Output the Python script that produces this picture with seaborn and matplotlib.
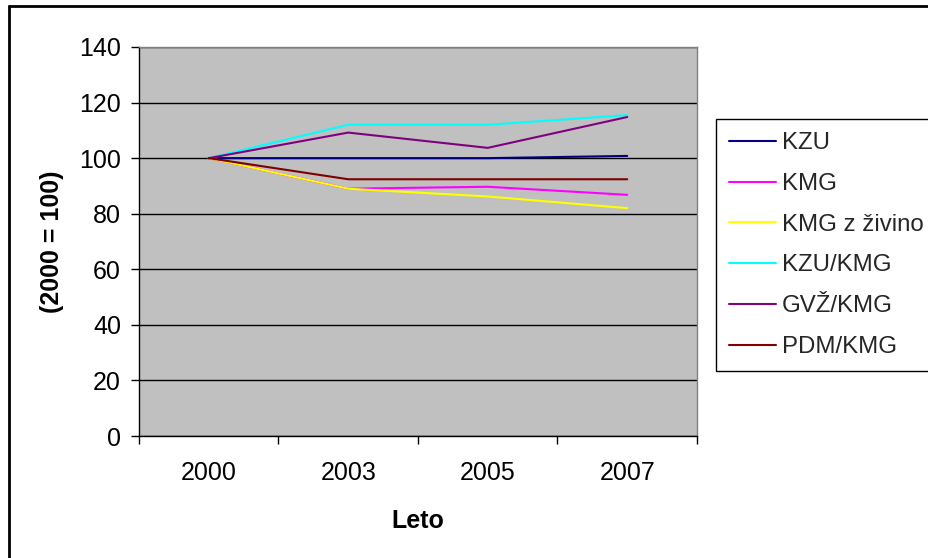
import matplotlib
matplotlib.use("Agg")
import matplotlib.pyplot as plt
from matplotlib.lines import Line2D
import seaborn as sns
import pandas as pd

years = ["2000", "2003", "2005", "2007"]
series_names = ["KZU", "KMG", "KMG z živino", "KZU/KMG", "GVŽ/KMG", "PDM/KMG"]
kzu = [100, 100, 100, 100.8]
kmg = [100, 89.0, 89.7, 86.8]
kmg_ziv = [100, 89.0, 86.2, 82.0]
kzu_kmg = [100, 112.0, 112.0, 115.5]
gvz_kmg = [100, 109.2, 103.7, 114.8]
pdm_kmg = [100, 92.4, 92.4, 92.4]
colors = ["#000080", "#FF00FF", "#FFFF00", "#00FFFF", "#800080", "#800000"]

values = [kzu, kmg, kmg_ziv, kzu_kmg, gvz_kmg, pdm_kmg]
rows = []
for name, vals in zip(series_names, values):
    for y, v in zip(years, vals):
        rows.append({"Leto": y, "Indeks": v, "Serija": name})
df = pd.DataFrame(rows)

sns.set_theme(style="white")
plt.rcParams["font.family"] = ["Liberation Sans", "DejaVu Sans"]
FS = 18
LFS = 17.3

fig = plt.figure(figsize=(9.29, 5.58), dpi=100)
ax = fig.add_axes([139/929, 1-436/558, (697-139)/929, (436-47)/558])
ax.set_facecolor("#C0C0C0")

sns.lineplot(data=df, x="Leto", y="Indeks", hue="Serija", hue_order=series_names,
             palette=colors, linewidth=1.5, ax=ax, legend=False, sort=False)

ax.set_xlim(-0.5, 3.5)
ax.set_ylim(0, 140)
ax.set_yticks(range(0, 141, 20))
ax.yaxis.grid(True, color="black", linewidth=1.0)
ax.set_axisbelow(True)
ax.set_xticks(range(len(years)))
ax.set_xticklabels(years)
ax.set_xticks([-0.5, 0.5, 1.5, 2.5, 3.5], minor=True)
ax.tick_params(axis="x", which="major", length=0, pad=18, labelsize=FS, colors="black")
ax.tick_params(axis="x", which="minor", length=6, width=1, direction="out", color="black", bottom=True)
ax.tick_params(axis="y", which="major", length=6, width=1, direction="out", pad=7,
               labelsize=FS, color="black", left=True, labelcolor="black")

for s in ["left", "bottom"]:
    ax.spines[s].set_color("black")
    ax.spines[s].set_linewidth(1.0)
for s in ["top", "right"]:
    ax.spines[s].set_color("#808080")
    ax.spines[s].set_linewidth(1.0)

ax.set_xlabel("Leto", fontsize=FS, fontweight="bold", labelpad=17, color="black")
ax.set_ylabel("(2000 = 100)", fontsize=FS, fontweight="bold", labelpad=10.5, color="black")

handles = [Line2D([], [], color=c, linewidth=1.5) for c in colors]
leg = fig.legend(handles, series_names, loc="upper left", bbox_to_anchor=(716/929, 1-119/558),
                 fontsize=LFS, frameon=True, fancybox=False, edgecolor="black",
                 framealpha=1, labelspacing=0.78, handlelength=1.95, handletextpad=0.25,
                 borderpad=0.55, borderaxespad=0)
leg.get_frame().set_linewidth(1.0)

fig.add_artist(Line2D([9/929, 1.0], [1-6/558, 1-6/558], transform=fig.transFigure, color="black", linewidth=2))
fig.add_artist(Line2D([9/929, 9/929], [0, 1-6/558], transform=fig.transFigure, color="black", linewidth=2))

fig.savefig("out.png", dpi=100)
